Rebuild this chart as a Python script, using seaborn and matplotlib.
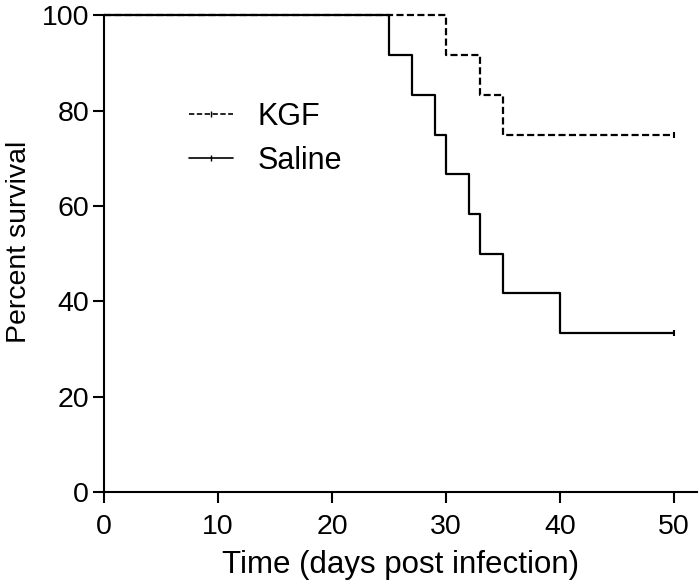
import pandas as pd
import matplotlib.pyplot as plt
import seaborn as sns
from matplotlib.lines import Line2D

# Kaplan-Meier steps
kgf_days = [0, 30, 33, 35, 50]
kgf_surv = [100, 91.67, 83.33, 75, 75]
saline_days = [0, 25, 27, 29, 30, 32, 33, 35, 40, 50]
saline_surv = [100, 91.67, 83.33, 75, 66.67, 58.33, 50, 41.67, 33.33, 33.33]

df = pd.concat([
    pd.DataFrame({"day": kgf_days, "surv": kgf_surv, "group": "KGF"}),
    pd.DataFrame({"day": saline_days, "surv": saline_surv, "group": "Saline"}),
])

sns.set_style("ticks")
plt.rcParams['font.family'] = ['Liberation Sans', 'DejaVu Sans']
plt.rcParams['text.color'] = 'black'
plt.rcParams['axes.labelcolor'] = 'black'

fig = plt.figure(figsize=(7, 5.88), dpi=100)
ax = fig.add_axes([0.149, 0.163, 0.846, 0.811])

styles = {"KGF": (0, (3.2, 1.5)), "Saline": "-"}
handles = []
for name, sub in df.groupby("group"):
    sns.lineplot(data=sub, x="day", y="surv", ax=ax, color="black",
                 drawstyle="steps-post", linestyle=styles[name], linewidth=1.6,
                 legend=False, clip_on=False)
    # censor tick at last point
    ax.plot(sub["day"].iloc[-1], sub["surv"].iloc[-1], marker="|", color="black",
            markersize=5, markeredgewidth=1.5, clip_on=False)
    handles.append(Line2D([], [], color="black", linestyle=styles[name], linewidth=1.2,
                          marker="|", markersize=4, markeredgewidth=1, label=name))

ax.set_xlim(0, 52)
ax.set_ylim(0, 100)
ax.set_xticks([0, 10, 20, 30, 40, 50])
ax.set_yticks([0, 20, 40, 60, 80, 100])
ax.tick_params(labelsize=20.5, length=8, width=1.5, direction="out", colors="black")
ax.tick_params(axis="x", pad=8)
ax.tick_params(axis="y", pad=3)
for s in ["left", "bottom"]:
    ax.spines[s].set_linewidth(1.5)
    ax.spines[s].set_color("black")
sns.despine(ax=ax)
ax.set_xlabel("Time (days post infection)", fontsize=22.5, labelpad=7)
ax.set_ylabel("Percent survival", fontsize=20.5)
ax.yaxis.set_label_coords(-0.122, 0.525)

leg = ax.legend(handles=handles, loc="upper left", bbox_to_anchor=(0.096, 0.876),
                frameon=False, fontsize=22, numpoints=1, handlelength=1.45,
                handletextpad=0.8, labelspacing=0.45)

fig.savefig("out.png", dpi=100)
